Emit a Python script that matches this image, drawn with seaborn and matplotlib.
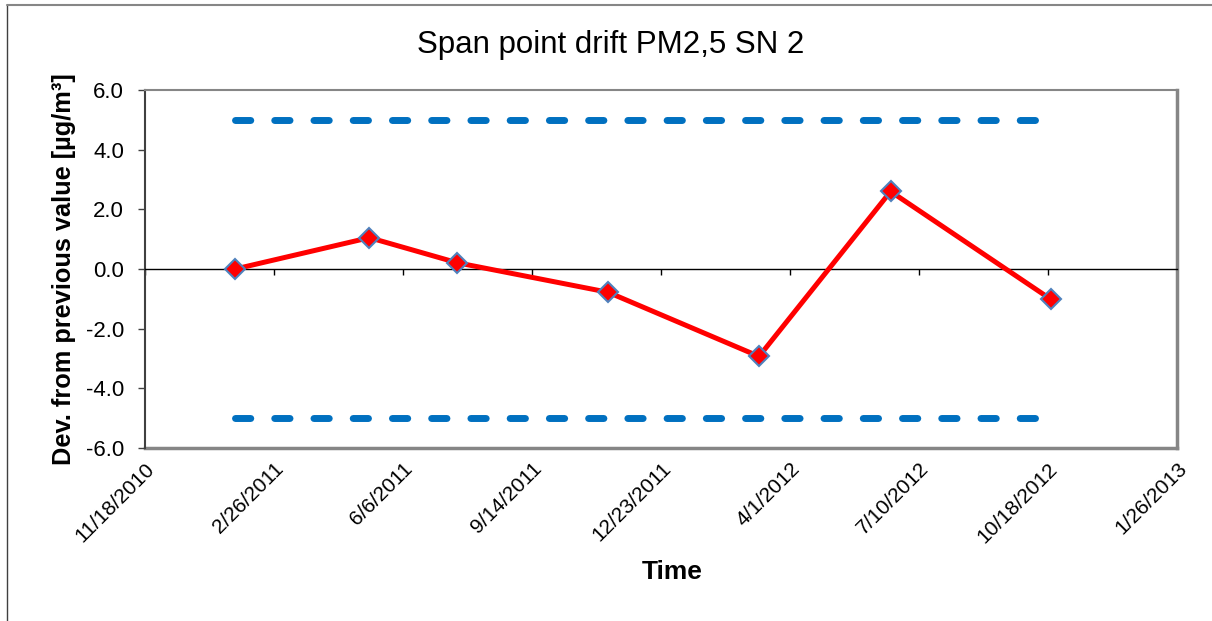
import datetime as dt

import pandas as pd
import seaborn as sns
import matplotlib.pyplot as plt
import matplotlib.dates as mdates
from matplotlib.lines import Line2D
from matplotlib.ticker import FixedLocator, FuncFormatter

# span point drift
dates = ['2011-01-27', '2011-05-11', '2011-07-18', '2011-11-12',
         '2012-03-08', '2012-06-18', '2012-10-20']
drift = [0.0, 1.05, 0.21, -0.78, -2.93, 2.60, -1.01]
upper_limit = 5.0
lower_limit = -5.0

x_start = dt.date(2010, 11, 18)
x_end = dt.date(2013, 1, 26)
tick_step_days = 100
y_ticks = [-6.0, -4.0, -2.0, 0.0, 2.0, 4.0, 6.0]

title = 'Span point drift PM2,5 SN 2'
xlabel = 'Time'
ylabel = 'Dev. from previous value [µg/m³]'

df = pd.DataFrame({'date': pd.to_datetime(dates), 'drift': drift})
df['upper'] = upper_limit
df['lower'] = lower_limit

sns.set_theme(style='white')
plt.rcParams['font.family'] = ['Liberation Sans', 'DejaVu Sans']
plt.rcParams.update({'text.color': 'black', 'axes.labelcolor': 'black',
                     'xtick.color': 'black', 'ytick.color': 'black'})

fig = plt.figure(figsize=(12.12, 6.21), dpi=100)
ax = fig.add_axes([145 / 1212, 1 - 448 / 621, 1032 / 1212, 358 / 621])

frame = '#868686'
blue = '#0070C0'
for col in ('upper', 'lower'):
    line_ax = sns.lineplot(data=df, x='date', y=col, ax=ax, color=blue)
    ln = line_ax.lines[-1]
    ln.set_linewidth(5)
    ln.set_dashes((2.2, 3.45))
    ln.set_dash_capstyle('round')
sns.lineplot(data=df, x='date', y='drift', ax=ax, color='red', lw=3.6,
             marker='D', markersize=10, markerfacecolor='red',
             markeredgecolor='#4F81BD', markeredgewidth=1.5, zorder=5)

ax.set_xlim(x_start, x_end)
ax.set_ylim(y_ticks[0], y_ticks[-1])

tick_dates = []
d = x_start
while d <= x_end:
    tick_dates.append(d)
    d += dt.timedelta(days=tick_step_days)
tick_nums = mdates.date2num(tick_dates)

# x axis drawn through zero, labels along the bottom of the plot area
ax.spines['bottom'].set_position(('data', 0))
ax.spines['bottom'].set_color('black')
ax.spines['bottom'].set_linewidth(1)
ax.xaxis.set_major_locator(FixedLocator(tick_nums))
ax.tick_params(axis='x', which='both', bottom=True, direction='out',
               length=4.5, width=1, color='black', labelbottom=False)

sec = ax.secondary_xaxis('bottom')
sec.xaxis.set_major_locator(FixedLocator(tick_nums))
sec.xaxis.set_major_formatter(FuncFormatter(
    lambda v, pos: (lambda t: f'{t.month}/{t.day}/{t.year}')(mdates.num2date(v))))
sec.tick_params(axis='x', length=0, pad=8, labelsize=15, labelcolor='black')
for lab in sec.get_xticklabels():
    lab.set_rotation(45)
    lab.set_ha('right')
    lab.set_rotation_mode('anchor')
sec.spines['bottom'].set_color(frame)
sec.spines['bottom'].set_linewidth(2.5)

ax.spines['top'].set_color(frame)
ax.spines['top'].set_linewidth(1.5)
ax.spines['right'].set_color(frame)
ax.spines['right'].set_linewidth(2.5)
ax.spines['left'].set_color('#404040')
ax.spines['left'].set_linewidth(1.5)

ax.set_yticks(y_ticks)
ax.yaxis.set_major_formatter(FuncFormatter(lambda v, pos: f'{v:.1f}'))
ax.tick_params(axis='y', left=True, direction='out', length=5, width=1,
               color='#404040', labelsize=16, labelcolor='black', pad=10)

ax.set_xlabel('')
fig.text(672 / 1212, 1 - 572 / 621, xlabel, ha='center', va='center',
         fontsize=19, fontweight='bold')
ax.set_ylabel(ylabel, fontsize=18.3, fontweight='bold', labelpad=7)
fig.suptitle(title, x=0.504, y=1 - 45 / 621, va='center', fontsize=22.5)

# outer chart frame (cropped on the right and bottom)
fig.add_artist(Line2D([7 / 1212, 7 / 1212], [0, 1 - 5 / 621],
                      transform=fig.transFigure, color='#404040', lw=1))
fig.add_artist(Line2D([7 / 1212, 1], [1 - 5 / 621, 1 - 5 / 621],
                      transform=fig.transFigure, color=frame, lw=1.5))

fig.savefig('out.png', dpi=100)
